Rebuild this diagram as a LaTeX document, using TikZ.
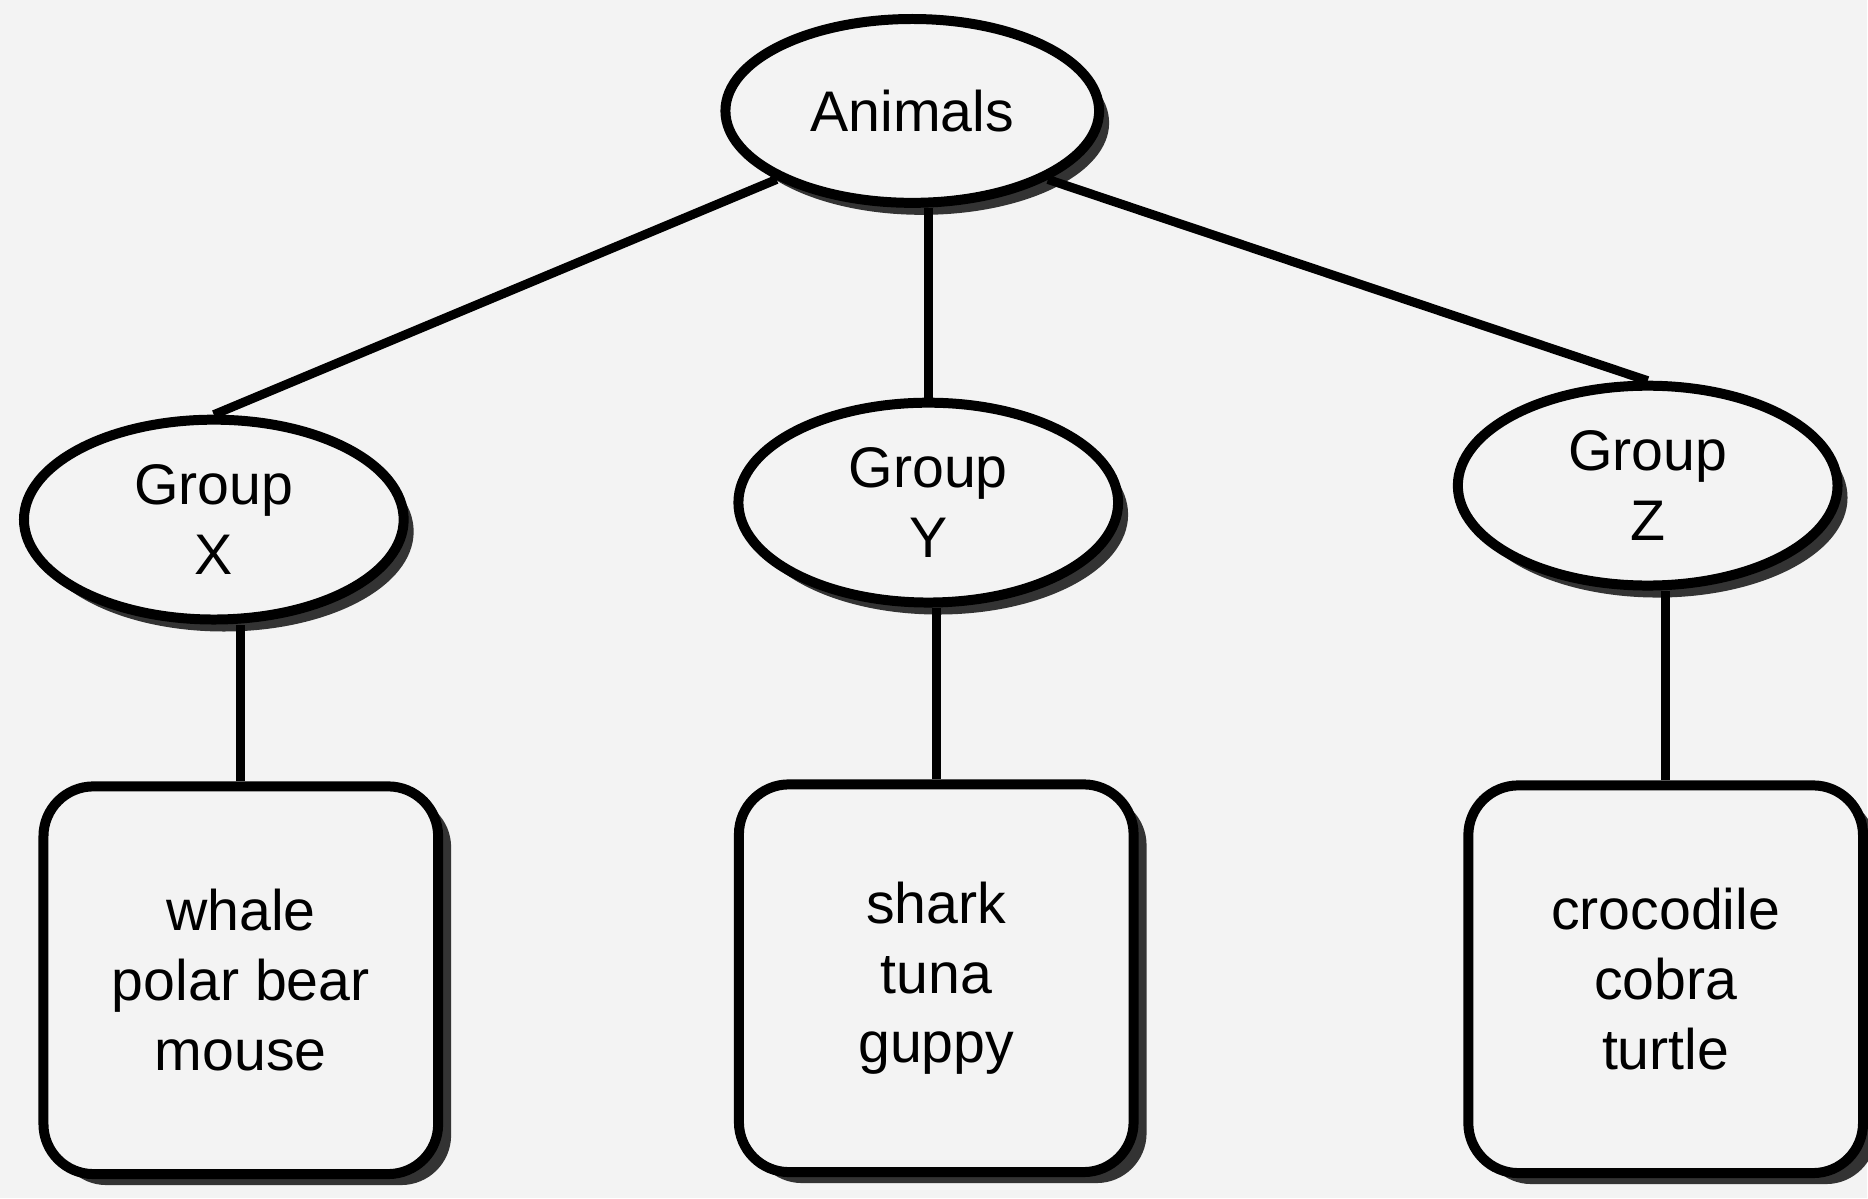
\documentclass[tikz,border=0pt]{standalone}
\usepackage{fontspec}
\setmainfont{Liberation Sans}
\usetikzlibrary{shapes.geometric}
\definecolor{paper}{HTML}{F3F3F3}
\tikzset{
  shade/.style={preaction={fill=black!80,transform canvas={shift={(#1)}}}},
  oval/.style={ellipse,draw,fill=paper,line width=1mm,inner sep=0pt,
    align=center,shade={10,12},minimum width=38mm,minimum height=20mm},
  card/.style={rectangle,rounded corners=5mm,draw,fill=paper,line width=1mm,
    align=center,shade={13,11},minimum width=39.5mm,minimum height=38.8mm},
  link/.style={line width=.9mm}
}

\begin{document}
\begin{tikzpicture}[x=.1mm,y=-.1mm,font=\fontsize{16.3}{19.9}\selectfont]
  \fill[paper](0,0) rectangle (1868,1199);
  \node[oval,minimum width=37.4mm,minimum height=18.4mm](animals) at (913,111){Animals};
  \foreach \g/\ex/\ey/\bx/\by/\list in {%
    X/214/520/241/981/{whale\\polar bear\\mouse},
    Y/929/503/937/979/{shark\\tuna\\guppy},
    Z/1649/486/1667/980/{crocodile\\cobra\\turtle}}{%
      \node[oval](group\g) at (\ex,\ey){Group\\\g};
      \node[card](box\g) at (\bx,\by){\list};
      \draw[link](box\g.north) -- (box\g.north |- group\g.south);
    }
  \draw[link](animals.south west) -- (groupX.north);
  \draw[link](groupY.north) -- (groupY.north |- animals.south);
  \draw[link](animals.south east) -- (groupZ.north);
\end{tikzpicture}
\end{document}
